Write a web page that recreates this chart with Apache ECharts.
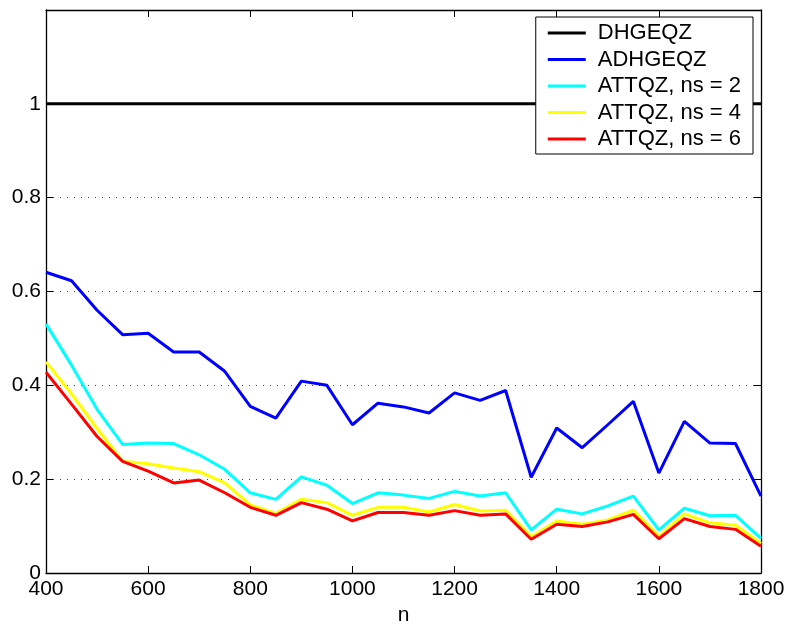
<!DOCTYPE html>
<html>
<head>
<meta charset="utf-8">
<script src="https://cdn.jsdelivr.net/npm/echarts@6/dist/echarts.min.js"></script>
<style>
html,body{margin:0;padding:0;background:#fff;}
#chart{width:786px;height:623px;}
</style>
</head>
<body>
<div id="chart"></div>
<script>
var nValues = [400,450,500,550,600,650,700,750,800,850,900,950,1000,1050,1100,1150,1200,1250,1300,1350,1400,1450,1500,1550,1600,1650,1700,1750,1800];
var dhgeqz = [1,1,1,1,1,1,1,1,1,1,1,1,1,1,1,1,1,1,1,1,1,1,1,1,1,1,1,1,1];
var adhgeqz = [0.641,0.623,0.560,0.508,0.511,0.471,0.471,0.430,0.355,0.330,0.409,0.400,0.316,0.362,0.354,0.341,0.384,0.368,0.389,0.204,0.309,0.267,0.316,0.366,0.213,0.323,0.277,0.276,0.164];
var attqz2 = [0.531,0.443,0.349,0.274,0.277,0.276,0.252,0.221,0.171,0.157,0.205,0.187,0.148,0.171,0.166,0.159,0.174,0.164,0.171,0.092,0.136,0.126,0.143,0.164,0.092,0.138,0.122,0.123,0.074];
var attqz4 = [0.450,0.382,0.308,0.238,0.233,0.224,0.216,0.192,0.145,0.127,0.157,0.150,0.123,0.140,0.140,0.130,0.146,0.132,0.134,0.077,0.111,0.104,0.113,0.134,0.078,0.126,0.107,0.102,0.063];
var attqz6 = [0.428,0.360,0.291,0.238,0.217,0.192,0.198,0.171,0.140,0.123,0.150,0.136,0.111,0.129,0.129,0.123,0.133,0.123,0.126,0.072,0.104,0.099,0.109,0.125,0.073,0.116,0.099,0.093,0.057];
var seriesNames = ['DHGEQZ','ADHGEQZ','ATTQZ, ns = 2','ATTQZ, ns = 4','ATTQZ, ns = 6'];
var seriesColors = ['#000000','#0000ff','#00ffff','#ffff00','#ff0000'];
var seriesData = [dhgeqz, adhgeqz, attqz2, attqz4, attqz6];

function pairs(arr){ return nValues.map(function(n,i){ return [n, arr[i]]; }); }

var FONT = 'Liberation Sans, Arial, Helvetica, sans-serif';
var chart = echarts.init(document.getElementById('chart'), null, {renderer:'canvas'});
var option = {
  animation: false,
  backgroundColor: '#ffffff',
  grid: {left: 46, right: 25, top: 10, bottom: 50, containLabel: false, outerBoundsMode: 'none'},
  legend: {
    orient: 'vertical',
    right: 33, top: 17,
    backgroundColor: '#ffffff',
    borderColor: '#000000', borderWidth: 1,
    padding: [5, 12, 4, 12],
    itemGap: 4.5,
    itemWidth: 38, itemHeight: 3,
    icon: 'rect',
    textStyle: {fontFamily: FONT, fontSize: 22, color: '#000', lineHeight: 21, padding: [0,0,0,7]},
    data: seriesNames
  },
  xAxis: [{
    type: 'value', min: 400, max: 1800, interval: 200,
    name: 'n', nameLocation: 'middle', nameGap: 28,
    nameTextStyle: {fontFamily: FONT, fontSize: 21, color: '#000'},
    axisLine: {show: true, onZero: false, lineStyle: {color: '#000', width: 1.3}},
    axisTick: {show: true, inside: true, length: 7, lineStyle: {color: '#000', width: 1}},
    axisLabel: {fontFamily: FONT, fontSize: 21, color: '#000', margin: 6,
      formatter: function(v){ return String(v); }},
    splitLine: {show: false}
  },{
    type: 'value', min: 400, max: 1800, interval: 200, position: 'top',
    axisLine: {show: true, onZero: false, lineStyle: {color: '#000', width: 1.3}},
    axisTick: {show: true, inside: true, length: 7, lineStyle: {color: '#000', width: 1}},
    axisLabel: {show: false},
    splitLine: {show: false}
  }],
  yAxis: [{
    type: 'value', min: 0, max: 1.2, interval: 0.2,
    axisLine: {show: true, onZero: false, lineStyle: {color: '#000', width: 1.3}},
    axisTick: {show: true, inside: true, length: 7, lineStyle: {color: '#000', width: 1}},
    axisLabel: {fontFamily: FONT, fontSize: 21, color: '#000', margin: 5,
      formatter: function(v){ return v > 1.05 ? '' : String(Math.round(v*10)/10); }},
    splitLine: {show: true, lineStyle: {color: '#444', width: 1, type: [1, 6]}}
  },{
    type: 'value', min: 0, max: 1.2, interval: 0.2, position: 'right',
    axisLine: {show: true, onZero: false, lineStyle: {color: '#000', width: 1.3}},
    axisTick: {show: true, inside: true, length: 7, lineStyle: {color: '#000', width: 1}},
    axisLabel: {show: false},
    splitLine: {show: false}
  }],
  series: seriesNames.map(function(name, i){
    return {
      name: name, type: 'line', xAxisIndex: 0, yAxisIndex: 0,
      data: pairs(seriesData[i]),
      showSymbol: false, symbol: 'none',
      lineStyle: {color: seriesColors[i], width: 3},
      itemStyle: {color: seriesColors[i]},
      z: 2 + i
    };
  })
};
chart.setOption(option);
</script>
</body>
</html>
